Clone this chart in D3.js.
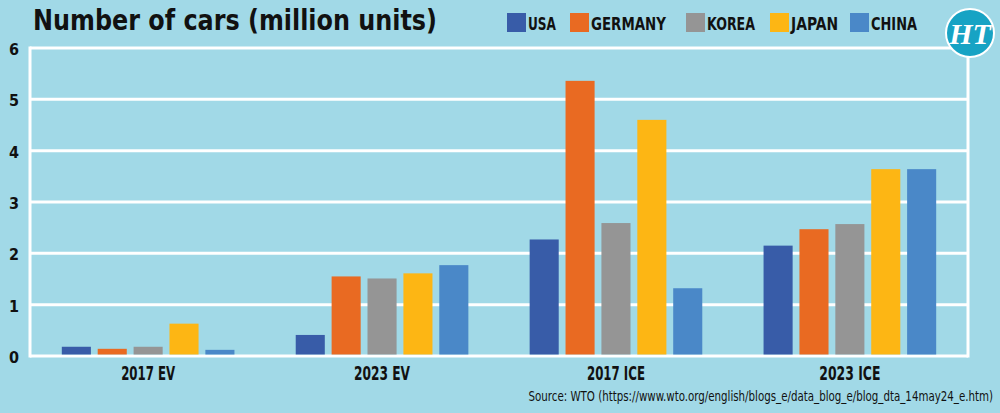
<!doctype html>
<html lang="en">
<head>
  <meta charset="utf-8">
  <style>
    html, body { margin: 0; padding: 0; background: #a1d9e7; }
    svg { display: block; }
    text { font-family: "DejaVu Sans Condensed", "DejaVu Sans", sans-serif; font-stretch: condensed; fill: #111; }
  </style>
</head>
<body>
  <script src="https://d3js.org/d3.v7.min.js" charset="utf-8"></script>
  <div id="chart"></div>
  <script>
    // data
    var groups = ["2017 EV", "2023 EV", "2017 ICE", "2023 ICE"];
    var countries = ["USA", "GERMANY", "KOREA", "JAPAN", "CHINA"];
    var usa     = [0.18, 0.41, 2.27, 2.15];
    var germany = [0.14, 1.55, 5.36, 2.47];
    var korea   = [0.18, 1.51, 2.59, 2.57];
    var japan   = [0.63, 1.61, 4.60, 3.64];
    var china   = [0.12, 1.77, 1.32, 3.64];
    var yTicks = [0, 1, 2, 3, 4, 5, 6];
    var colors = ["#385ca8", "#e96a22", "#959595", "#fdb614", "#4a88c8"];

    var series = [usa, germany, korea, japan, china];

    var width = 1000, height = 413;
    var plot = {left: 30, right: 968, top: 48, bottom: 356};

    var svg = d3.select("#chart").append("svg")
                .attr("width", width)
                .attr("height", height);

    svg.append("rect").attr("width", width).attr("height", height).attr("fill", "#a1d9e7");

    var x0 = d3.scaleBand().domain(groups).range([plot.left, plot.right])
               .paddingInner(0.262).paddingOuter(0.136);
    var x1 = d3.scaleBand().domain(countries).range([0, x0.bandwidth()])
               .paddingInner(0.19).paddingOuter(0);
    var y = d3.scaleLinear().domain([0, 6]).range([plot.bottom, plot.top]);

    // gridlines
    svg.append("g").selectAll("line").data(yTicks).enter()
       .append("line")
       .attr("x1", plot.left).attr("x2", plot.right)
       .attr("y1", d => y(d)).attr("y2", d => y(d))
       .attr("stroke", "white").attr("stroke-width", 3);

    // left and right frame lines
    svg.append("line").attr("x1", plot.left).attr("x2", plot.left)
       .attr("y1", plot.top - 1.5).attr("y2", plot.bottom + 1.5)
       .attr("stroke", "white").attr("stroke-width", 3);
    svg.append("line").attr("x1", plot.right).attr("x2", plot.right)
       .attr("y1", plot.top).attr("y2", plot.bottom + 1.5)
       .attr("stroke", "white").attr("stroke-width", 3);

    // y labels
    var yAxis = d3.axisLeft(y).tickValues(yTicks).tickFormat(d3.format("d")).tickSize(0).tickPadding(0);
    var ya = svg.append("g").attr("transform", "translate(20,0)").call(yAxis);
    ya.select(".domain").remove();
    ya.selectAll("text")
      .attr("text-anchor", "middle").attr("x", -6).attr("dy", "0.4em")
      .style("font-family", "\"DejaVu Sans Condensed\", \"DejaVu Sans\", sans-serif")
      .style("font-weight", "bold").style("font-size", "16px").style("fill", "#111");

    // bars
    var barG = svg.append("g").selectAll("g").data(groups).enter()
                  .append("g")
                  .attr("transform", d => "translate(" + x0(d) + ",0)");
    barG.selectAll("rect")
        .data((g, gi) => countries.map((c, ci) => ({c: c, ci: ci, v: series[ci][gi]})))
        .enter().append("rect")
        .attr("x", d => x1(d.c))
        .attr("width", x1.bandwidth())
        .attr("y", d => y(d.v))
        .attr("height", d => y(0) - y(d.v) - 1.5)
        .attr("fill", d => colors[d.ci]);

    // x labels
    var xLabelW = [54, 56, 58, 61];
    var xAxis = d3.axisBottom(x0).tickSize(0).tickPadding(0);
    var xa = svg.append("g").attr("transform", "translate(0,366)").call(xAxis);
    xa.select(".domain").remove();
    xa.selectAll("text")
      .attr("dy", "0.76em")
      .attr("textLength", (d, i) => xLabelW[i]).attr("lengthAdjust", "spacingAndGlyphs")
      .style("font-family", "\"DejaVu Sans Condensed\", \"DejaVu Sans\", sans-serif")
      .style("font-weight", "bold").style("font-size", "19px").style("fill", "#111");

    // title
    svg.append("text")
       .attr("x", 33).attr("y", 30)
       .attr("textLength", 404).attr("lengthAdjust", "spacingAndGlyphs")
       .style("font-weight", "bold").style("font-size", "29px")
       .text("Number of cars (million units)");

    // legend
    var legendX = [507, 570, 686, 770, 850];
    var legendW = [28, 75, 48, 47, 46];
    var leg = svg.append("g").selectAll("g").data(countries).enter()
                 .append("g")
                 .attr("transform", (d, i) => "translate(" + legendX[i] + ",13)");
    leg.append("rect").attr("width", 19).attr("height", 19)
       .attr("fill", (d, i) => colors[i]);
    leg.append("text").attr("x", 21).attr("y", 17)
       .attr("textLength", (d, i) => legendW[i]).attr("lengthAdjust", "spacingAndGlyphs")
       .style("font-weight", "bold").style("font-size", "18px")
       .text(d => d);

    // HT logo
    svg.append("circle").attr("cx", 970).attr("cy", 33).attr("r", 24)
       .attr("fill", "#17a3c4").attr("stroke", "white").attr("stroke-width", 2);
    svg.append("text").attr("x", 970).attr("y", 44)
       .attr("text-anchor", "middle")
       .style("font-family", "\"Liberation Serif\", \"DejaVu Serif\", serif")
       .style("font-weight", "bold").style("font-style", "italic")
       .style("font-size", "30px").style("fill", "white")
       .text("HT");

    // source, squeezed to the reference width with a transform
    var src = svg.append("g").attr("transform", "translate(993,401)");
    var srcText = src.append("text")
       .attr("text-anchor", "end")
       .style("font-size", "13.5px")
       .text("Source: WTO (https://www.wto.org/english/blogs_e/data_blog_e/blog_dta_14may24_e.htm)");
    var natural = srcText.node().getComputedTextLength();
    srcText.attr("transform", "scale(" + Math.min(1, 465 / natural) + ",1)");
  </script>
</body>
</html>
